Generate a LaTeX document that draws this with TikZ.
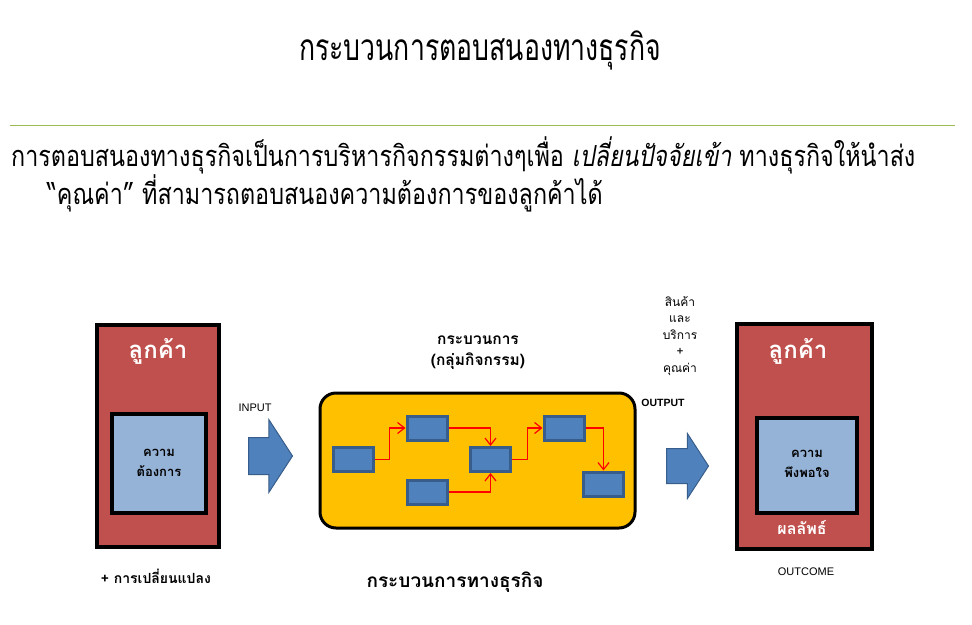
\documentclass[tikz,border=0pt]{standalone}
\usepackage{fontspec}
\setmainfont{Liberation Sans}
\newfontfamily\thaifont[Script=Thai]{Loma}
\newfontfamily\thainarrow[Script=Thai,FakeStretch=0.72]{Loma}
\newfontfamily\thaibody[Script=Thai,FakeStretch=0.805]{Loma}
\usetikzlibrary{calc,positioning,arrows.meta,shapes.arrows}

\definecolor{custred}{HTML}{C0504D}
\definecolor{needblue}{HTML}{95B3D7}
\definecolor{procyellow}{HTML}{FFC000}
\definecolor{actblue}{HTML}{4F81BD}
\definecolor{actborder}{HTML}{385D8A}
\definecolor{ruleolive}{HTML}{9BBB59}

\begin{document}
\begin{tikzpicture}[
  x=1pt, y=-1pt,
  custbox/.style={draw=black, line width=4pt, fill=custred, inner sep=0pt},
  needbox/.style={draw=black, line width=4pt, fill=needblue, inner sep=0pt},
  procbox/.style={draw=black, line width=3pt, fill=procyellow, rounded corners=16pt, inner sep=0pt},
  actbox/.style={draw=actborder, line width=3pt, fill=actblue, minimum width=40pt, minimum height=24pt, inner sep=0pt},
  flow/.style={draw=red, line width=1.2pt, -{Straight Barb[length=7pt,width=11pt]}},
  bigarrow/.style={single arrow, draw=actborder, line width=1pt, fill=actblue, inner xsep=0pt,
    single arrow tip angle=114, shape border rotate=0, anchor=tail},
  whitelabel/.style={text=white, font=\thaifont\bfseries\fontsize{24}{28}\selectfont},
  thailabel/.style={font=\thaifont\bfseries\fontsize{13}{17}\selectfont, align=center},
  latinlabel/.style={font=\fontsize{11}{13}\selectfont},
  ]
  \useasboundingbox (0,0) rectangle (972,624);

  % heading and text
  \node[font=\thainarrow\fontsize{37}{40}\selectfont] (title) at (480,50) {กระบวนการตอบสนองทางธุรกิจ};
  \coordinate (ruleL) at (10,125);
  \coordinate (ruleR) at (955,125);
  \draw[ruleolive, line width=1pt] (ruleL) -- (ruleR);
  \node[anchor=west, inner sep=0pt, font=\thaibody\fontsize{29}{34}\selectfont] (line1) at (11,155)
    {การตอบสนองทางธุรกิจเป็นการบริหารกิจกรรมต่างๆเพื่อ \textit{เปลี่ยนปัจจัยเข้า} ทางธุรกิจให้นำส่ง};
  \node[anchor=west, inner sep=0pt, font=\thaibody\fontsize{29}{34}\selectfont] (line2) at (47,193)
    {“คุณค่า” ที่สามารถตอบสนองความต้องการของลูกค้าได้};

  % customer (left)
  \node[custbox, minimum width=122pt, minimum height=222pt] (custL) at (158,436) {};
  \node[needbox, minimum width=94pt, minimum height=99pt] (needL) at (159,463) {};
  \node[whitelabel] (custLtext) at (158,351) {ลูกค้า};
  \node[thailabel] (needLtext) at (159,463) {ความ\\[3pt]ต้องการ};
  \node[thailabel, font=\thaifont\bfseries\fontsize{14}{17}\selectfont] (change) at (156,576) {+ การเปลี่ยนแปลง};

  % input
  \node[latinlabel] (inlabel) at (255,408) {INPUT};
  \node[bigarrow, inner ysep=18pt, single arrow head extend=18pt, minimum height=44pt] (inarrow) at (248,456) {};

  % process
  \node[thailabel, font=\thaifont\bfseries\fontsize{15.5}{19}\selectfont] (proclabel) at (478,353) {กระบวนการ\\[2pt](กลุ่มกิจกรรม)};
  \node[procbox, minimum width=315pt, minimum height=135pt] (proc) at (477.5,460.5) {};
  \node[actbox] (a1) at (353.5,459.5) {};
  \node[actbox] (a2) at (427,428) {};
  \node[actbox] (a3) at (427,492) {};
  \node[actbox] (a4) at (490.5,459.5) {};
  \node[actbox] (a5) at (564,428) {};
  \node[actbox] (a6) at (603.5,484) {};
  \draw[flow] (a1.east) -| ($(a2.west)+(-16,0)$) -- (a2.west);
  \draw[flow] (a2.east) -| (a4.north);
  \draw[flow] (a3.east) -| (a4.south);
  \draw[flow] (a4.east) -| ($(a5.west)+(-15,0)$) -- (a5.west);
  \draw[flow] (a5.east) -| (a6.north);
  \node[thailabel, font=\thaifont\bfseries\fontsize{19}{23}\selectfont] (bizproc) at (455,582) {กระบวนการทางธุรกิจ};

  % output
  \node[font=\thaifont\fontsize{12}{16.5}\selectfont, align=center] (goods) at (680,336)
    {สินค้า\\และ\\บริการ\\+\\คุณค่า};
  \node[latinlabel, font=\bfseries\fontsize{10.5}{13}\selectfont] (outlabel) at (663,403) {OUTPUT};
  \node[bigarrow, inner ysep=17pt, single arrow head extend=15pt, minimum height=42pt] (outarrow) at (666,466) {};

  % customer (right)
  \node[custbox, minimum width=135pt, minimum height=225pt] (custR) at (804.5,436.5) {};
  \node[needbox, minimum width=100pt, minimum height=95pt] (needR) at (807,465.5) {};
  \node[whitelabel] (custRtext) at (798,351) {ลูกค้า};
  \node[thailabel] (needRtext) at (807,464) {ความ\\[3pt]พึงพอใจ};
  \node[whitelabel, font=\thaifont\bfseries\fontsize{16}{20}\selectfont] (result) at (802,528) {ผลลัพธ์};
  \node[latinlabel] (outcome) at (806,572) {OUTCOME};
\end{tikzpicture}
\end{document}
